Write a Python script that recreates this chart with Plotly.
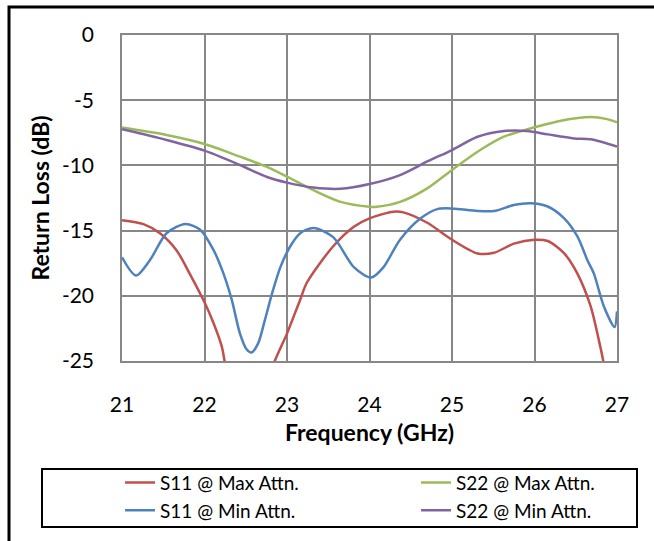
import plotly.graph_objects as go

# ---- data ----
s11_max_f = [21.0, 21.26, 21.46, 21.66, 21.82, 22.0, 22.11, 22.21, 22.25, 22.4, 22.55, 22.7, 22.84, 22.9, 23.0,
             23.08, 23.16, 23.24, 23.56, 23.81, 24.0, 24.29, 24.41, 24.7, 25.0, 25.31, 25.51, 25.75, 26.0, 26.16,
             26.36, 26.52, 26.68, 26.78, 26.84, 27.0]
s11_max_db = [-14.2, -14.5, -15.2, -16.5, -18.3, -20.5, -22.1, -23.9, -25.2, -29.0, -31.0, -29.0, -25.2, -24.3, -22.9,
              -21.6, -20.3, -19.0, -16.2, -14.7, -14.06, -13.55, -13.6, -14.4, -15.7, -16.75, -16.7, -16.0, -15.7, -15.8,
              -16.75, -18.3, -20.8, -23.4, -25.2, -31.0]

s11_min_f = [21.0, 21.17, 21.34, 21.54, 21.77, 21.95, 22.11, 22.23, 22.33, 22.43, 22.51, 22.57, 22.65, 22.73,
             22.82, 22.92, 23.04, 23.16, 23.32, 23.56, 23.81, 24.02, 24.17, 24.37, 24.62, 24.82, 25.0, 25.31,
             25.51, 25.75, 25.95, 26.16, 26.36, 26.52, 26.64, 26.72, 26.84, 26.97, 27.0]
s11_min_db = [-17.05, -18.45, -17.25, -15.2, -14.5, -14.95, -16.5, -18.3, -20.3, -22.9, -24.1, -24.35, -23.65, -21.9,
              -19.8, -17.8, -16.2, -15.2, -14.8, -15.5, -17.8, -18.6, -17.8, -15.7, -14.06, -13.35, -13.3, -13.5,
              -13.5, -13.04, -12.9, -13.15, -14.06, -15.45, -17.25, -18.3, -20.8, -22.4, -21.2]

s22_max_f = [21.0, 21.54, 22.0, 22.43, 22.75, 23.0, 23.32, 23.65, 24.0, 24.09, 24.37, 24.7, 25.0, 25.31,
             25.63, 26.0, 26.32, 26.68, 26.88, 27.0]
s22_max_db = [-7.1, -7.67, -8.36, -9.33, -10.1, -10.87, -11.9, -12.8, -13.17, -13.17, -12.8, -11.76, -10.35, -8.95,
              -7.8, -7.08, -6.57, -6.29, -6.45, -6.7]

s22_min_f = [21.0, 21.54, 22.0, 22.43, 22.75, 23.0, 23.32, 23.65, 24.0, 24.37, 24.7, 25.0, 25.31, 25.63,
             25.91, 26.16, 26.48, 26.68, 27.0]
s22_min_db = [-7.23, -8.05, -8.87, -9.97, -10.87, -11.32, -11.7, -11.8, -11.43, -10.74, -9.7, -8.82, -7.8, -7.36,
              -7.36, -7.62, -7.93, -8.0, -8.56]

x_ticks = [21, 22, 23, 24, 25, 26, 27]
y_ticks = [0, -5, -10, -15, -20, -25]

FONT = "Lato"
GRID = "#878787"

fig = go.Figure()
series = [
    ("S11 @ Max Attn.", s11_max_f, s11_max_db, "#C0504D"),
    ("S22 @ Max Attn.", s22_max_f, s22_max_db, "#9BBB59"),
    ("S11 @ Min Attn.", s11_min_f, s11_min_db, "#4F81BD"),
    ("S22 @ Min Attn.", s22_min_f, s22_min_db, "#8064A2"),
]
for name, fx, fy, col in series:
    fig.add_trace(go.Scatter(x=fx, y=fy, mode="lines", name=name,
                             line=dict(color=col, width=2.5, shape="spline", smoothing=0.8)))

fig.update_layout(
    width=654, height=541,
    margin=dict(l=122, r=37, t=35, b=180, autoexpand=False),
    paper_bgcolor="white", plot_bgcolor="white",
    font=dict(family=FONT, color="black"),
    showlegend=True,
    legend=dict(orientation="h", x=-0.004, xanchor="left", y=-0.315, yanchor="top",
                entrywidth=251, font=dict(size=19, family=FONT),
                bgcolor="rgba(0,0,0,0)", borderwidth=0, traceorder="normal"),
    xaxis=dict(range=[21, 27], tickvals=x_ticks, ticktext=[str(v) for v in x_ticks],
               showgrid=True, gridcolor=GRID, gridwidth=1.5,
               showline=True, linecolor=GRID, linewidth=1.5, mirror=True,
               zeroline=False, ticks="", ticklabelstandoff=24,
               tickfont=dict(size=21, family=FONT),
               title=dict(text="<b>Frequency (GHz)</b>", font=dict(size=23, family=FONT), standoff=10)),
    yaxis=dict(range=[-25, 0], tickvals=y_ticks, ticktext=[str(v) for v in y_ticks],
               showgrid=True, gridcolor=GRID, gridwidth=1.5,
               showline=True, linecolor=GRID, linewidth=1.5, mirror=True,
               zeroline=False, ticks="", ticklabelstandoff=22,
               tickfont=dict(size=21, family=FONT),
               title=dict(text="<b>Return Loss (dB)</b>", font=dict(size=23, family=FONT), standoff=6)),
)

# chart outer border (partially off-canvas like the reference)
fig.add_shape(type="rect", xref="paper", yref="paper",
              x0=(9 - 122) / 495, x1=(700 - 122) / 495,
              y0=(361 - 600) / 326, y1=(361 - 7) / 326,
              line=dict(color="black", width=3), layer="above")
# legend box
fig.add_shape(type="rect", xref="paper", yref="paper",
              x0=(42 - 122) / 495, x1=(637 - 122) / 495,
              y0=-(527 - 361) / 326, y1=-(469 - 361) / 326,
              line=dict(color="black", width=2), layer="above")

fig.write_html("out.html")
